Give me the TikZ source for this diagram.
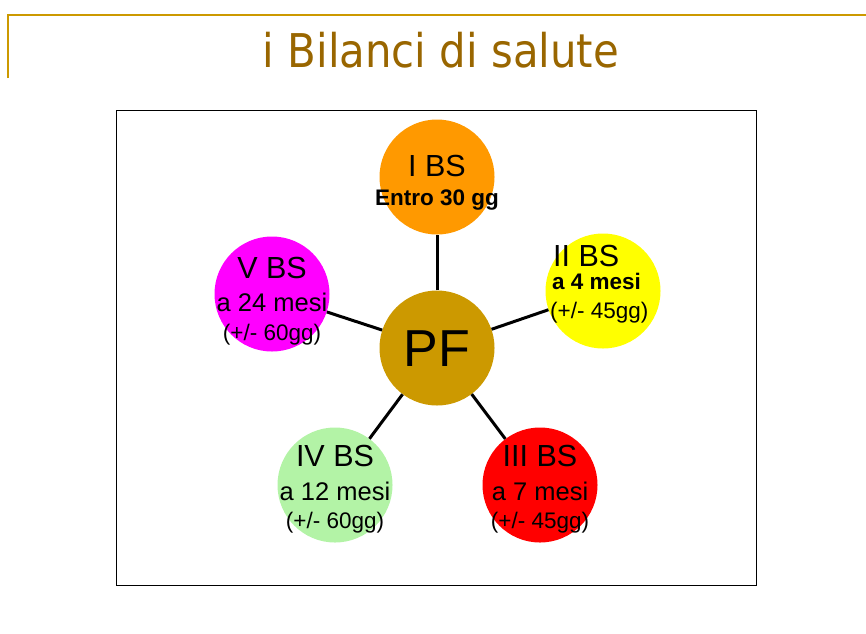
\documentclass[tikz,border=0pt]{standalone}
\usepackage{fontspec}
\setmainfont{Liberation Sans}
\newfontfamily\titlefont{DejaVu Sans Condensed}
\definecolor{gold}{RGB}{204,153,0}
\definecolor{titlebrown}{RGB}{153,102,0}
\definecolor{bsorange}{RGB}{255,153,0}
\definecolor{bsgreen}{RGB}{179,243,166}
\definecolor{bsyellow}{RGB}{255,255,0}
\definecolor{bsred}{RGB}{255,0,0}
\definecolor{bsmagenta}{RGB}{255,0,255}
\tikzset{
  bal/.style={circle, draw=none, minimum size=115pt, inner sep=0pt},
  conn/.style={line width=3pt, black},
  big/.style={font=\fontsize{30.5}{30.5}\selectfont, inner sep=0pt, anchor=base},
  mid/.style={font=\fontsize{25.5}{25.5}\selectfont, inner sep=0pt, anchor=base},
  sml/.style={font=\fontsize{22.5}{22.5}\selectfont, inner sep=0pt, anchor=base},
  bld/.style={font=\bfseries\fontsize{22.5}{22.5}\selectfont, inner sep=0pt, anchor=base},
}
\begin{document}
\begin{tikzpicture}[x=1pt,y=-1pt]
\useasboundingbox (0,0) rectangle (866,633);
% title rules
\coordinate (tl) at (8,15);
\coordinate (tr) at (866,15);
\coordinate (tb) at (8,78);
\draw[gold, line width=1.3pt] (tb) -- (tl) -- (tr);
\node[titlebrown, font=\titlefont\fontsize{46.5}{46.5}\selectfont, inner sep=0pt, anchor=base] (title) at (441,67) {i Bilanci di salute};
% frame
\node[draw=black, line width=0.8pt, minimum width=640pt, minimum height=475pt, inner sep=0pt] (frame) at (436,347.5) {};
% circles
\node[bal, fill=gold] (pf) at (437,348) {};
\node[bal, fill=bsorange] (b1) at (437,177) {};
\node[bal, fill=bsyellow] (b2) at (603,291) {};
\node[bal, fill=bsred] (b3) at (540,485) {};
\node[bal, fill=bsgreen] (b4) at (335,485) {};
\node[bal, fill=bsmagenta] (b5) at (272,294) {};
% connectors
\draw[conn] (pf) -- (b1);
\draw[conn] (pf) -- (b2);
\draw[conn] (pf) -- (b3);
\draw[conn] (pf) -- (b4);
\draw[conn] (pf) -- (b5);
% PF text
\node[font=\fontsize{52}{52}\selectfont, inner sep=0pt] (pft) at (437,349) {PF};
% I BS
\node[big] (t1a) at (437,176) {I BS};
\node[bld] (t1b) at (437,205) {Entro 30 gg};
% II BS
\node[big, anchor=base west] (t2a) at (553,266) {II BS};
\node[bld, anchor=base west] (t2b) at (552,289) {a 4 mesi};
\node[sml, anchor=base west] (t2c) at (550,318) {(+/- 45gg)};
% III BS
\node[big] (t3a) at (540,466) {III BS};
\node[mid] (t3b) at (540,500) {a 7 mesi};
\node[sml] (t3c) at (540,528) {(+/- 45gg)};
% IV BS
\node[big] (t4a) at (335,466) {IV BS};
\node[mid] (t4b) at (335,500) {a 12 mesi};
\node[sml] (t4c) at (335,528) {(+/- 60gg)};
% V BS
\node[big] (t5a) at (272,278) {V BS};
\node[mid] (t5b) at (272,311) {a 24 mesi};
\node[sml] (t5c) at (272,340) {(+/- 60gg)};
\end{tikzpicture}
\end{document}
